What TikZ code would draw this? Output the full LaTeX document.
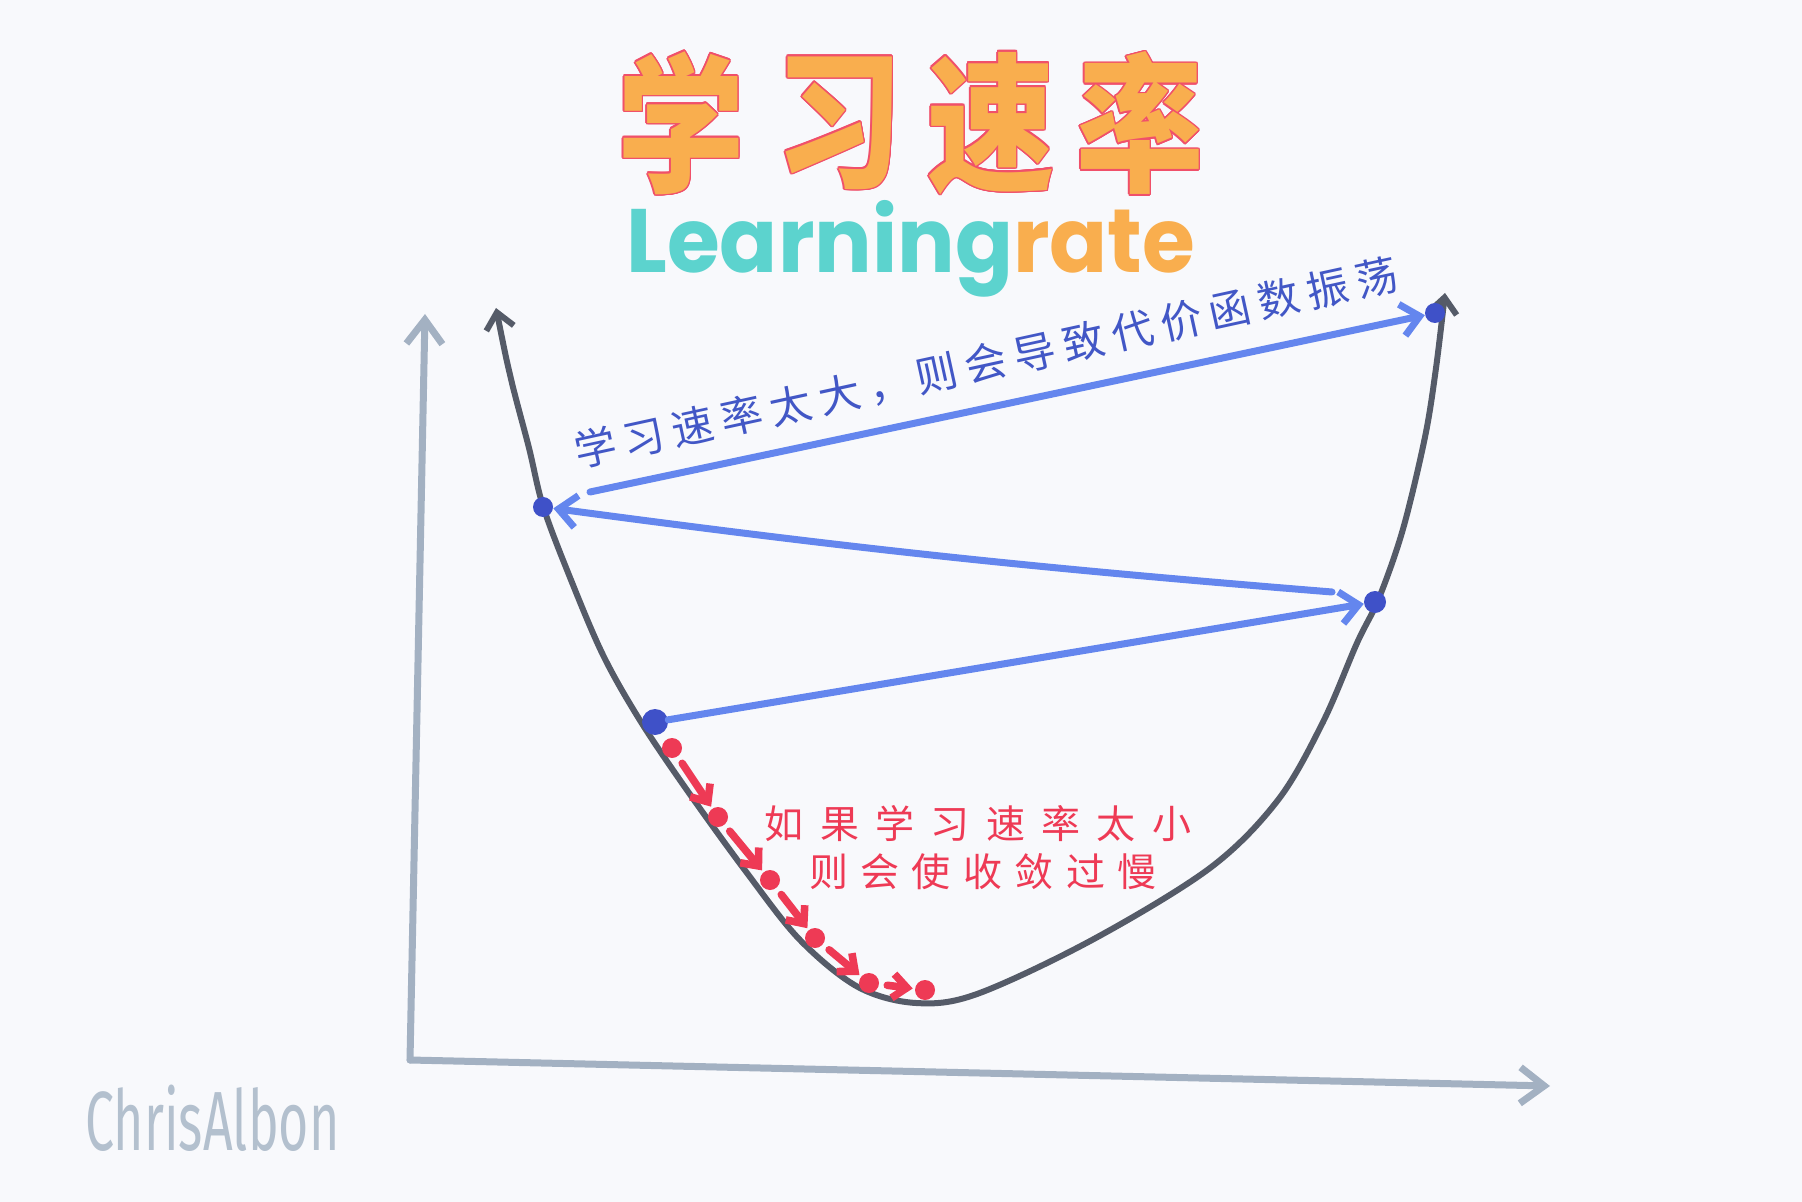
\documentclass[tikz,border=0pt]{standalone}
\usepackage{fontspec}
\usepackage{graphicx}
\usepackage[copies]{contour}
\usetikzlibrary{arrows.meta}
\newfontfamily\cjk{Noto Sans CJK SC}
\newfontfamily\heavy{Poppins}
\newfontfamily\sigfont{Fira Sans}
\definecolor{bgc}{HTML}{F8F9FC}
\definecolor{axisc}{HTML}{A3B1C2}
\definecolor{curvec}{HTML}{555B68}
\definecolor{barc}{HTML}{6486EE}
\definecolor{bdotc}{HTML}{3F51C8}
\definecolor{btextc}{HTML}{4257C6}
\definecolor{redc}{HTML}{EE3A55}
\definecolor{titleor}{HTML}{F9AE4E}
\definecolor{titlered}{HTML}{F0506A}
\definecolor{tealc}{HTML}{5CD3CE}
\definecolor{sigc}{HTML}{B3C0CE}
\contourlength{0.8pt}
\begin{document}
\begin{tikzpicture}[x=0.5pt,y=-0.5pt,
  axis/.style={line width=3.5pt, draw=axisc, line cap=round, line join=round,
    -{Straight Barb[length=12pt,width=18pt,line width=3.5pt]}},
  curve/.style={line width=3pt, draw=curvec, line cap=round, line join=round,
    {Straight Barb[length=8pt,width=14pt,line width=3pt]}-{Straight Barb[length=8pt,width=14pt,line width=3pt]}},
  barrow/.style={line width=3.5pt, draw=barc, line cap=round,
    -{Straight Barb[length=9pt,width=16pt,line width=3.5pt]}},
  bdot/.style={circle, fill=bdotc, inner sep=0pt},
  rdot/.style={circle, fill=redc, inner sep=0pt, minimum size=10pt},
  rarrow/.style={line width=3.8pt, draw=redc, line cap=round, shorten <=4pt, shorten >=1pt,
    -{Straight Barb[length=7pt,width=12pt,line width=3.8pt]}},
  titlech/.style={font=\cjk\bfseries\fontsize{75pt}{75pt}\selectfont, text=titleor, inner sep=0pt},
  btext/.style={font=\cjk\fontsize{21pt}{21pt}\selectfont\addfontfeature{LetterSpace=19}, text=btextc, inner sep=0pt},
  rtext/.style={font=\cjk\fontsize{19pt}{19pt}\selectfont, text=redc, inner sep=0pt}
]
\fill[bgc] (0,0) rectangle (1802,1202);
\useasboundingbox (0,0) rectangle (1802,1202);

% title
\node[titlech] (t1) at (681,124) {\scalebox{0.85}[1]{\contour{titlered}{学}}};
\node[titlech] (t2) at (839,124) {\scalebox{0.85}[1]{\contour{titlered}{习}}};
\node[titlech] (t3) at (991,124) {\scalebox{0.85}[1]{\contour{titlered}{速}}};
\node[titlech] (t4) at (1140,124) {\scalebox{0.85}[1]{\contour{titlered}{率}}};
\node[font=\heavy\bfseries\fontsize{45pt}{45pt}\selectfont, anchor=base west, inner sep=0pt] (lr) at (626,273)
  {\resizebox{284.5pt}{\height}{\textcolor{tealc}{Learning}\textcolor{titleor}{rate}}};

% axes
\coordinate (O) at (410,1060);
\coordinate (Ytop) at (425,314);
\coordinate (Xend) at (1550,1086);
\draw[axis] (O) -- (Ytop);
\draw[axis] (O) -- (Xend);

% cost curve
\draw[curve] plot[smooth, tension=0.55] coordinates {
  (496,308) (511,379) (529,448) (543,506) (569,575) (603,655) (641,722)
  (689,793) (747,873) (800,940) (858,987) (916,1003) (977,994) (1092,940)
  (1210,868) (1278,800) (1323,722) (1357,643) (1379,598) (1403,529)
  (1425,437) (1436,368) (1445,293)};

% blue points and arrows
\node[bdot, minimum size=10pt] (P1) at (543,507) {};
\node[bdot, minimum size=13pt] (P3) at (655,722) {};
\node[bdot, minimum size=11pt] (P2) at (1375,602) {};
\node[bdot, minimum size=10pt] (P4) at (1435,313) {};
\coordinate (T0) at (590,492);
\coordinate (M0) at (1332,592);
\draw[barrow] (T0) -- (P4);
\draw[barrow] (M0) to[bend left=1.5] (P1);
\draw[barrow] (P3) -- (P2);

% red points and arrows
\node[rdot] (d1) at (672,748) {};
\node[rdot] (d2) at (718,817) {};
\node[rdot] (d3) at (770,880) {};
\node[rdot] (d4) at (815,938) {};
\node[rdot] (d5) at (869,983) {};
\node[rdot] (d6) at (925,990) {};
\draw[rarrow] (d1) -- (d2);
\draw[rarrow] (d2) -- (d3);
\draw[rarrow] (d3) -- (d4);
\draw[rarrow] (d4) -- (d5);
\draw[rarrow] (d5) -- (d6);

% texts
\node[btext, rotate=12.3] (bt) at (986,363) {学习速率太大，则会导致代价函数振荡};
\node[rtext, font=\cjk\fontsize{19.5pt}{19.5pt}\selectfont\addfontfeature{LetterSpace=42}] (r1) at (978,824) {如果学习速率太小};
\node[rtext, font=\cjk\fontsize{19.5pt}{19.5pt}\selectfont\addfontfeature{LetterSpace=32}] (r2) at (983,872) {则会使收敛过慢};
\node[font=\sigfont\fontsize{42pt}{42pt}\selectfont, text=sigc, inner sep=0pt, anchor=base west] (sig) at (85,1150)
  {\resizebox{127pt}{\height}{ChrisAlbon}};
\end{tikzpicture}
\end{document}
